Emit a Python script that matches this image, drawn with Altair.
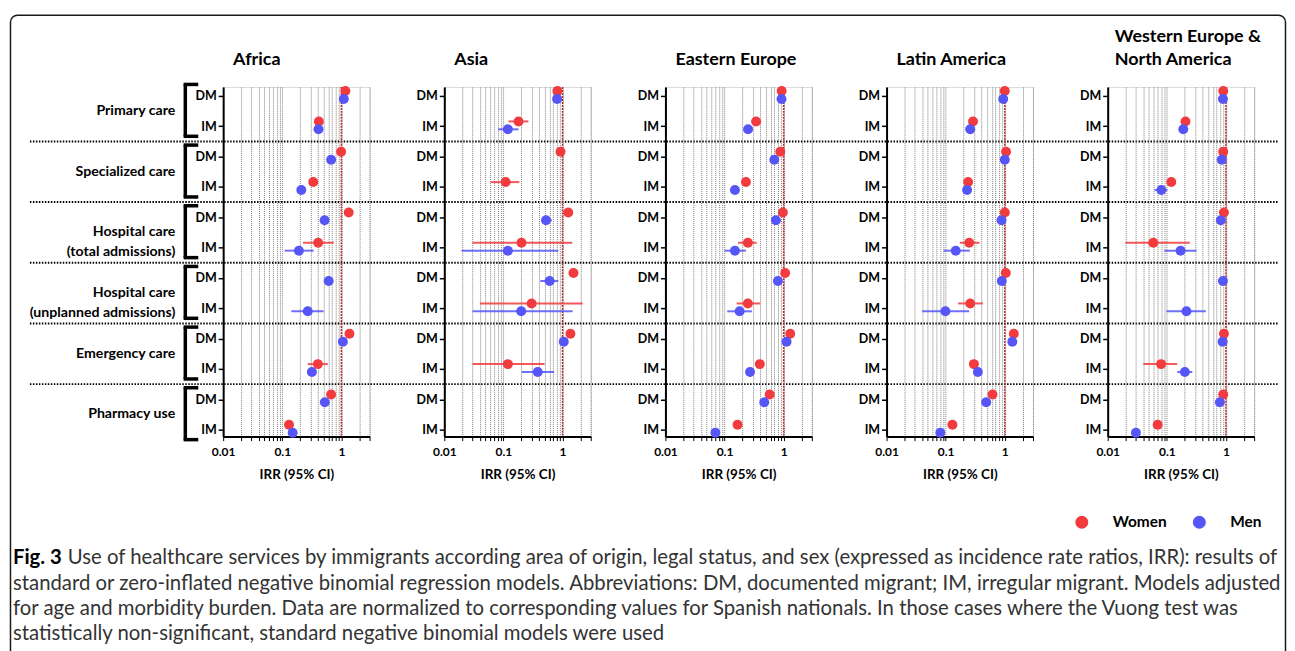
import altair as alt
import pandas as pd

# ---------------- data ----------------
regions = ["Africa", "Asia", "Eastern Europe", "Latin America", "Western Europe &\nNorth America"]
categories = ["Primary care", "Specialized care", "Hospital care\n(total admissions)",
              "Hospital care\n(unplanned admissions)", "Emergency care", "Pharmacy use"]
status_labels = ["DM", "IM"]
sexes = ["Women", "Men"]
sex_colors = ["#F23B3E", "#5656F6"]
x_ticks = [0.01, 0.02, 0.03, 0.04, 0.05, 0.06, 0.07, 0.08, 0.09,
           0.1, 0.2, 0.3, 0.4, 0.5, 0.6, 0.7, 0.8, 0.9, 1, 2, 3]
x_labels = [0.01, 0.1, 1]
axis_title = "IRR (95% CI)"
caption_bold = "Fig. 3"
caption_lines = [
    "Use of healthcare services by immigrants according area of origin, legal status, and sex (expressed as incidence rate ratios, IRR): results of",
    "standard or zero-inflated negative binomial regression models. Abbreviations: DM, documented migrant; IM, irregular migrant. Models adjusted",
    "for age and morbidity burden. Data are normalized to corresponding values for Spanish nationals. In those cases where the Vuong test was",
    "statistically non-significant, standard negative binomial models were used",
]

N = None
# rows: Primary DM, Primary IM, Specialized DM, Specialized IM, HospTotal DM, HospTotal IM,
#       HospUnplanned DM, HospUnplanned IM, Emergency DM, Emergency IM, Pharmacy DM, Pharmacy IM
africa_w    = [1.17, 0.416, 0.99, 0.334, 1.33, 0.405, N, N, 1.37, 0.40, 0.67, 0.13]
africa_w_lo = [N, N, N, N, N, 0.224, N, N, N, 0.27, N, N]
africa_w_hi = [N, N, N, N, N, 0.745, N, N, N, 0.59, N, N]
africa_m    = [1.10, 0.41, 0.67, 0.21, 0.52, 0.191, 0.61, 0.27, 1.06, 0.317, 0.525, 0.15]
africa_m_lo = [N, N, N, N, N, 0.11, N, 0.142, N, N, N, N]
africa_m_hi = [N, N, N, N, N, 0.34, N, 0.50, N, N, N, N]

asia_w    = [0.82, 0.18, 0.925, 0.109, 1.25, 0.202, 1.53, 0.30, 1.36, 0.119, N, N]
asia_w_lo = [N, 0.122, N, 0.061, N, 0.030, N, 0.04, N, 0.03, N, N]
asia_w_hi = [N, 0.265, N, 0.186, N, 1.46, N, 2.2, N, 0.497, N, N]
asia_m    = [0.81, 0.119, N, N, 0.526, 0.119, 0.605, 0.20, 1.05, 0.38, N, N]
asia_m_lo = [N, 0.081, N, N, 0.46, 0.0196, 0.42, 0.03, N, 0.205, N, N]
asia_m_hi = [N, 0.18, N, N, 0.66, 0.85, 0.85, 1.48, N, 0.72, N, N]

eeur_w    = [0.925, 0.342, 0.877, 0.23, 0.97, 0.248, 1.06, 0.248, 1.29, 0.395, 0.58, 0.166]
eeur_w_lo = [N, N, N, N, N, 0.169, N, 0.16, N, N, N, N]
eeur_w_hi = [N, N, N, N, N, 0.35, N, 0.40, N, N, N, N]
eeur_m    = [0.92, 0.25, 0.695, 0.15, 0.74, 0.15, 0.80, 0.18, 1.12, 0.27, 0.47, 0.070]
eeur_m_lo = [N, N, N, N, N, 0.10, N, 0.111, N, N, N, N]
eeur_m_hi = [N, N, N, N, N, 0.23, N, 0.29, N, N, N, N]

latam_w    = [1.0, 0.29, 1.05, 0.24, 1.0, 0.25, 1.04, 0.26, 1.42, 0.30, 0.62, 0.13]
latam_w_lo = [N, N, N, N, N, 0.173, N, 0.162, N, N, N, N]
latam_w_hi = [N, N, N, N, N, 0.374, N, 0.427, N, N, N, N]
latam_m    = [0.94, 0.26, 1.0, 0.23, 0.88, 0.148, 0.89, 0.099, 1.34, 0.35, 0.485, 0.081]
latam_m_lo = [N, N, N, N, N, 0.092, N, 0.04, N, N, N, N]
latam_m_hi = [N, N, N, N, N, 0.257, N, 0.25, N, N, N, N]

weur_w    = [0.90, 0.207, 0.90, 0.119, 0.925, 0.059, N, N, 0.925, 0.08, 0.90, 0.07]
weur_w_lo = [N, N, N, N, N, 0.020, N, N, N, 0.04, N, N]
weur_w_hi = [N, N, N, N, N, 0.245, N, N, N, 0.150, N, N]
weur_m    = [0.89, 0.19, 0.85, 0.081, 0.82, 0.171, 0.89, 0.215, 0.88, 0.202, 0.79, 0.030]
weur_m_lo = [N, N, N, 0.062, N, 0.091, N, 0.099, N, 0.15, N, N]
weur_m_hi = [N, N, N, 0.102, N, 0.317, N, 0.457, N, 0.27, N, N]

panel_data = [
    (africa_w, africa_w_lo, africa_w_hi, africa_m, africa_m_lo, africa_m_hi),
    (asia_w, asia_w_lo, asia_w_hi, asia_m, asia_m_lo, asia_m_hi),
    (eeur_w, eeur_w_lo, eeur_w_hi, eeur_m, eeur_m_lo, eeur_m_hi),
    (latam_w, latam_w_lo, latam_w_hi, latam_m, latam_m_lo, latam_m_hi),
    (weur_w, weur_w_lo, weur_w_hi, weur_m, weur_m_lo, weur_m_hi),
]

# ---------------- styling ----------------
FONT = "Lato"
PW, PH = 147, 351
label_expr = " || ".join(f"datum.value == {v}" for v in x_labels)


def X(field):
    return alt.X(
        f"{field}:Q",
        scale=alt.Scale(type="log", domain=[0.01, 3], nice=False),
        axis=alt.Axis(
            values=x_ticks, format=".2~f",
            labelExpr=f"({label_expr}) ? datum.label : ''",
            grid=True, gridColor="#808080", gridDash=[1, 1], gridWidth=1,
            domainColor="black", domainWidth=2,
            tickColor="black", tickSize=4, tickWidth=1,
            labelFont=FONT, labelFontWeight="bold", labelFontSize=12, labelColor="black",
            labelPadding=6, labelFlush=False, labelOverlap=False,
            title=axis_title, titleFont=FONT, titleFontWeight="bold", titleFontSize=13.5,
            titleColor="black", titlePadding=10,
        ),
    )


def Y(field):
    return alt.Y(
        f"{field}:Q",
        scale=alt.Scale(domain=[-0.296, 11.23], reverse=True, nice=False, zero=False),
        axis=alt.Axis(
            values=list(range(12)),
            labelExpr=f"datum.value % 2 == 0 ? '{status_labels[0]}' : '{status_labels[1]}'",
            grid=False, domainColor="black", domainWidth=2,
            tickColor="black", tickWidth=1.5, tickSize=5,
            labelFont=FONT, labelFontWeight="bold", labelFontSize=12.5, labelColor="black",
            labelPadding=2, title="",
        ),
    )


def make_df(vals, lo, hi, sex):
    rows = []
    for i, v in enumerate(vals):
        if v is None:
            continue
        rows.append({"row": i, "sex": sex, "value": v, "lo": lo[i], "hi": hi[i]})
    return pd.DataFrame(rows, columns=["row", "sex", "value", "lo", "hi"])


ycalc = "datum.row + (datum.sex == 'Women' ? -0.16 : 0.1)"


def panel(idx):
    w, wlo, whi, m, mlo, mhi = panel_data[idx]
    dfs = [make_df(w, wlo, whi, sexes[0]), make_df(m, mlo, mhi, sexes[1])]
    layers = []
    ref = alt.Chart(pd.DataFrame({"v": [1.0]})).mark_rule(
        color="#B02A2A", strokeDash=[2, 1], strokeWidth=1.5
    ).encode(x=X("v"))
    layers.append(ref)
    for df, col in zip(dfs, sex_colors):
        bars = df[df["lo"].notna()]
        if len(bars):
            layers.append(
                alt.Chart(bars).transform_calculate(ypos=ycalc).mark_rule(
                    color=col, strokeWidth=2, opacity=0.85
                ).encode(x=X("lo"), x2="hi:Q", y=Y("ypos"))
            )
    for df, col in zip(dfs, sex_colors):
        layers.append(
            alt.Chart(df).transform_calculate(ypos=ycalc).mark_circle(
                color=col, size=100, opacity=1
            ).encode(x=X("value"), y=Y("ypos"))
        )
    title_y = -45 if "\n" in regions[idx] else -22
    title_x = 7 if "\n" in regions[idx] else 10
    layers.append(
        alt.Chart(pd.DataFrame({"t": [regions[idx]]})).mark_text(
            align="left", baseline="alphabetic", font=FONT, fontWeight="bold",
            fontSize=18, lineBreak="\n", lineHeight=23, color="black"
        ).encode(text="t:N", x=alt.value(title_x), y=alt.value(title_y))
    )
    return layers


# ---------- extra decoration layers for the first panel ----------
frame = alt.Chart(pd.DataFrame({"a": [0]})).mark_rect(
    filled=False, stroke="#1a1a1a", strokeWidth=1.5, cornerRadius=7
).encode(x=alt.value(-213.5), x2=alt.value(1066.5), y=alt.value(-72), y2=alt.value(575))

sep_df = pd.DataFrame({"sep": [2 * g + 1.5 for g in range(len(categories) - 1)]})
separators = alt.Chart(sep_df).mark_rule(
    color="black", strokeWidth=2, strokeDash=[1.5, 1.5]
).encode(x=alt.value(-194), x2=alt.value(1060), y=Y("sep"))

br_df = pd.DataFrame({"top": [2 * g - 0.38 for g in range(len(categories))],
                      "bot": [2 * g + 1.33 for g in range(len(categories))]})
br_v = alt.Chart(br_df).mark_rule(color="black", strokeWidth=3.5).encode(
    x=alt.value(-38), y=Y("top"), y2="bot:Q")
br_t = alt.Chart(br_df).mark_rule(color="black", strokeWidth=3.5).encode(
    x=alt.value(-39.7), x2=alt.value(-25), y=Y("top"))
br_b = alt.Chart(br_df).mark_rule(color="black", strokeWidth=3.5).encode(
    x=alt.value(-39.7), x2=alt.value(-25), y=Y("bot"))

cat_df = pd.DataFrame({"cat": categories, "ymid": [2 * g + 0.5 for g in range(len(categories))]})
cat_text = alt.Chart(cat_df).mark_text(
    align="right", baseline="middle", font=FONT, fontWeight="bold", fontSize=14.2,
    lineBreak="\n", lineHeight=20, color="black"
).encode(text="cat:N", y=Y("ymid"), x=alt.value(-48))

CAP_FS = 20.4
caption_layers = [
    alt.Chart(pd.DataFrame({"t": [caption_bold]})).mark_text(
        align="left", baseline="middle", font=FONT, fontWeight="bold", fontSize=CAP_FS, color="black"
    ).encode(text="t:N", x=alt.value(-211), y=alt.value(473))
]
cap_y = [473, 498.5, 524, 549]
for i, line in enumerate(caption_lines):
    caption_layers.append(
        alt.Chart(pd.DataFrame({"t": [line]})).mark_text(
            align="left", baseline="middle", font=FONT, fontSize=CAP_FS, color="#333333"
        ).encode(text="t:N", x=alt.value(-156 if i == 0 else -211), y=alt.value(cap_y[i]))
    )

legend_layers = []
leg_x = [862, 980]
for s, col, lx in zip(sexes, sex_colors, leg_x):
    legend_layers.append(
        alt.Chart(pd.DataFrame({"s": [s]})).mark_circle(color=col, size=170, opacity=1).encode(
            x=alt.value(lx), y=alt.value(437))
    )
    legend_layers.append(
        alt.Chart(pd.DataFrame({"s": [s]})).mark_text(
            align="left", baseline="middle", font=FONT, fontWeight="bold", fontSize=15.5, color="black"
        ).encode(text="s:N", x=alt.value(lx + 31), y=alt.value(437))
    )

panels = []
for i in range(len(regions)):
    lyr = panel(i)
    if i == 0:
        lyr = [frame, separators, br_v, br_t, br_b, cat_text] + lyr + caption_layers + legend_layers
    panels.append(alt.layer(*lyr).properties(width=PW, height=PH))

chart = alt.hconcat(*panels, spacing=75, bounds="flush").properties(
    padding={"left": 1, "top": 4, "right": 0, "bottom": 0}
).configure_view(strokeWidth=0).configure(background="white")

chart.save("out.html", embed_options={"renderer": "svg", "actions": False})
